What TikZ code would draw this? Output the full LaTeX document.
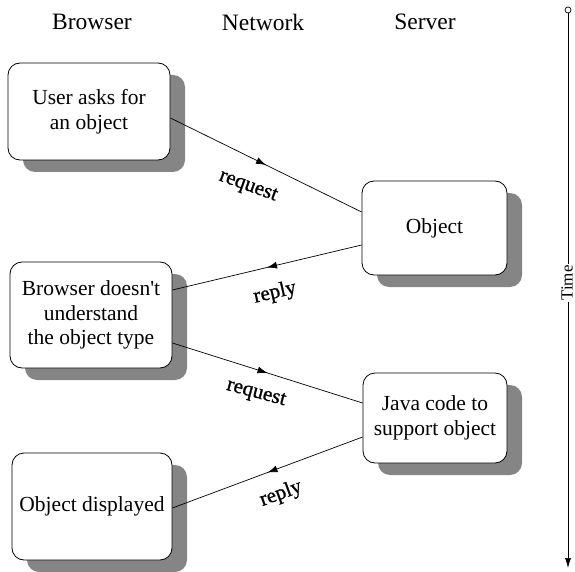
\documentclass[tikz,border=0pt]{standalone}
\usepackage{fontspec}
\setmainfont{Liberation Serif}
\usetikzlibrary{shadows,decorations.markings,arrows.meta,calc}
\begin{document}
\begin{tikzpicture}[x=1pt,y=-1pt,
  box/.style={draw, line width=0.8pt, rounded corners=12pt, fill=white, align=center,
    font=\fontsize{21.5}{24.5}\selectfont, inner sep=0pt,
    drop shadow={shadow xshift=15pt, shadow yshift=-12pt, fill=black!48, opacity=1}},
  hdr/.style={font=\fontsize{23.5}{28}\selectfont},
  lbl/.style={font=\fontsize{21}{24}\selectfont\addfontfeatures{FakeBold=1}, inner sep=1pt},
  msg/.style={line width=0.7pt, postaction={decorate},
    decoration={markings, mark=at position 0.5 with {\arrow{Latex[length=10pt,width=7pt]}}}}
]
\useasboundingbox (0,0) rectangle (575,572);

% headers
\node[hdr] (hB) at (92,22) {Browser};
\node[hdr] (hN) at (263,22) {Network};
\node[hdr] (hS) at (425,22) {Server};

% boxes
\node[box, minimum width=162pt, minimum height=97pt] (b1) at (89,111.5) {User asks for\\an object};
\node[box, minimum width=145pt, minimum height=94pt] (b2) at (434.5,228) {Object};
\node[box, minimum width=162pt, minimum height=106pt] (b3) at (91,315) {Browser doesn\textquotesingle t\\understand\\the object type};
\node[box, minimum width=144pt, minimum height=90pt] (b4) at (435,418) {Java code to\\support object};
\node[box, minimum width=160pt, minimum height=107pt] (b5) at (92,506.5) {Object displayed};

% messages
\draw[msg] ($(b1.east)+(0,6.5)$) -- ($(b2.west)+(0,-16)$);
\draw[msg] ($(b2.west)+(0,17)$) -- ($(b3.east)+(0,-25)$);
\draw[msg] ($(b3.east)+(0,28)$) -- ($(b4.west)+(0,-15)$);
\draw[msg] ($(b4.west)+(0,19)$) -- ($(b5.east)+(0,1.5)$);

% labels
\node[lbl, rotate=-20] (l1) at (248,187) {request};
\node[lbl, rotate=13] (l2) at (275,293) {reply};
\node[lbl, rotate=-15] (l3) at (256,394) {request};
\node[lbl, rotate=20] (l4) at (281,494) {reply};

% time axis
\node[circle, draw, line width=0.7pt, inner sep=0pt, minimum size=6pt] (tc) at (568,10) {};
\node[rotate=90, fill=white, inner sep=1pt, font=\fontsize{17}{19}\selectfont] (tl) at (567,283) {Time};
\coordinate (tb) at (568,568);
\draw[line width=0.7pt] (tc) -- (tc |- tl.east);
\draw[line width=0.7pt, -{Latex[length=10pt,width=6pt]}] (tc |- tl.west) -- (tb);
\end{tikzpicture}
\end{document}
